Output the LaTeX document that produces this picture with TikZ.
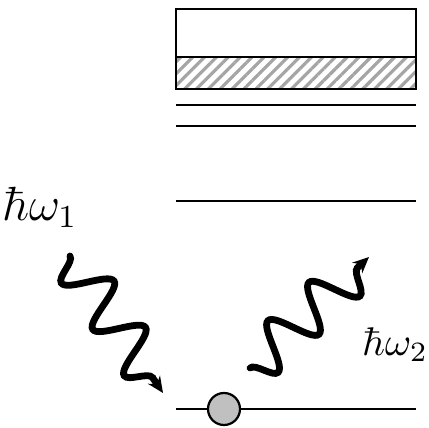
\documentclass[tikz,border=0pt]{standalone}
\usetikzlibrary{decorations.pathmorphing, patterns.meta, arrows.meta}
\definecolor{AtomGray}{RGB}{192, 192, 192}
\definecolor{HatchGray}{RGB}{165, 165, 165}

\begin{document}
\begin{tikzpicture}[x=0.25pt, y=-0.25pt,
    level/.style={line width=0.55pt},
    photon/.style={line width=1.7pt, line cap=round, decorate,
      decoration={snake, mirror, amplitude=5.6pt, segment length=14pt, post length=3.5pt},
      -{Stealth[length=4pt, width=3.6pt]}}]
  \useasboundingbox (0,0) rectangle (429,428);

  % continuum band
  \draw[level] (176,9) rectangle (416,57);
  \draw[level, pattern={Lines[angle=45, distance=2.1pt, line width=0.8pt]}, pattern color=HatchGray]
    (176,57) rectangle (416,89);

  % bound levels
  \draw[level] (176,105) -- (416,105);
  \draw[level] (176,126) -- (416,126);
  \draw[level] (176,201) -- (416,201);
  \draw[level] (176,409) -- (416,409);

  % electron in ground state
  \node[circle, draw, fill=AtomGray, line width=0.55pt, minimum size=32*0.25pt, inner sep=0pt] (atom) at (224,409) {};

  % photons
  \coordinate (in1) at (70,256);
  \coordinate (in2) at (163,393);
  \coordinate (out1) at (250,368);
  \coordinate (out2) at (369,257);
  \draw[photon] (in1) -- (in2);
  \draw[photon] (out1) -- (out2);

  \node[font=\fontsize{11.5}{13}\selectfont] (w1) at (40,207) {$\hbar\omega_1$};
  \node[font=\fontsize{10}{12}\selectfont] (w2) at (395,345) {$\hbar\omega_2$};
\end{tikzpicture}
\end{document}
